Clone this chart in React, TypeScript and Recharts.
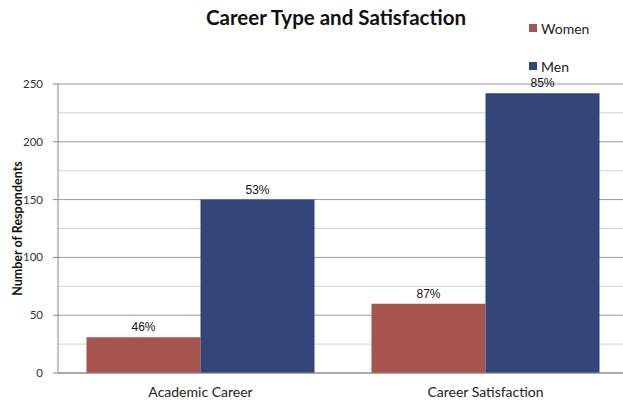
import React from 'react';
import { BarChart, Bar, XAxis, YAxis, CartesianGrid, LabelList } from 'recharts';

const categories = ['Academic Career', 'Career Satisfaction'];
const womenValues = [31, 60];
const menValues = [150, 242];
const womenLabels = ['46%', '87%'];
const menLabels = ['53%', '85%'];
const yTicks = [0, 50, 100, 150, 200, 250];
const minorTicks = [25, 75, 125, 175, 225];
const seriesNames = ['Women', 'Men'];

const data = categories.map((c, i) => ({
  category: c,
  women: womenValues[i],
  men: menValues[i],
  womenLabel: womenLabels[i],
  menLabel: menLabels[i],
}));

const WOMEN = '#A6544D';
const MEN = '#344679';
const FONT = 'Lato, "Open Sans", sans-serif';
const colors = [WOMEN, MEN];

const YLabel = (props: any) => {
  const vb = props.viewBox || {};
  const cx = 17;
  const cy = vb.y + vb.height / 2;
  return (
    <text
      x={cx}
      y={cy}
      transform={`rotate(-90, ${cx}, ${cy})`}
      textAnchor="middle"
      dominantBaseline="central"
      style={{ fontFamily: FONT, fontSize: 12.5, fontWeight: 700, fill: '#111' }}
    >
      Number of Respondents
    </text>
  );
};

export default function App() {
  return (
    <div style={{ position: 'absolute', left: 0, top: 0, width: 623, height: 402, overflow: 'hidden', background: '#fff' }}>
      <div
        style={{
          position: 'absolute',
          left: 0,
          width: 672,
          top: 5,
          textAlign: 'center',
          fontFamily: FONT,
          fontWeight: 700,
          fontSize: 20.5,
          color: '#111',
        }}
      >
        Career Type and Satisfaction
      </div>
      <BarChart
        width={636}
        height={402}
        data={data}
        margin={{ top: 84, right: 8, bottom: 0, left: 0 }}
        barCategoryGap="10%"
        barGap={0}
      >
        <CartesianGrid vertical={false} horizontalValues={minorTicks} stroke="#d2d2d2" strokeWidth={1} />
        <CartesianGrid vertical={false} stroke="#9a9a9a" strokeWidth={1} />
        <XAxis
          dataKey="category"
          height={29}
          axisLine={{ stroke: '#888' }}
          tickLine={false}
          tickSize={0}
          tickMargin={14}
          tick={{ fontFamily: FONT, fontSize: 14, fill: '#222' }}
        />
        <YAxis
          width={58}
          domain={[0, 250]}
          ticks={yTicks}
          axisLine={{ stroke: '#888' }}
          tickLine={{ stroke: '#888' }}
          tickSize={5}
          tickMargin={10}
          tick={{ fontFamily: FONT, fontSize: 11.5, fill: '#333' }}
          label={<YLabel />}
        />
        <Bar dataKey="women" name="Women" fill={WOMEN} isAnimationActive={false}>
          <LabelList dataKey="womenLabel" position="top" offset={6} style={{ fontFamily: '"Liberation Sans", Arial, sans-serif', fontSize: 12, fill: '#111' }} />
        </Bar>
        <Bar dataKey="men" name="Men" fill={MEN} isAnimationActive={false}>
          <LabelList dataKey="menLabel" position="top" offset={6} style={{ fontFamily: '"Liberation Sans", Arial, sans-serif', fontSize: 12, fill: '#111' }} />
        </Bar>
      </BarChart>
      <div style={{ position: 'absolute', left: 529, top: 19, fontFamily: FONT, fontSize: 14, color: '#222' }}>
        {seriesNames.map((name, i) => (
          <div key={name} style={{ display: 'flex', alignItems: 'center', height: 18, marginBottom: i === 0 ? 20 : 0 }}>
            <span style={{ display: 'inline-block', width: 8, height: 8, background: colors[i], marginRight: 4 }} />
            <span>{name}</span>
          </div>
        ))}
      </div>
    </div>
  );
}
